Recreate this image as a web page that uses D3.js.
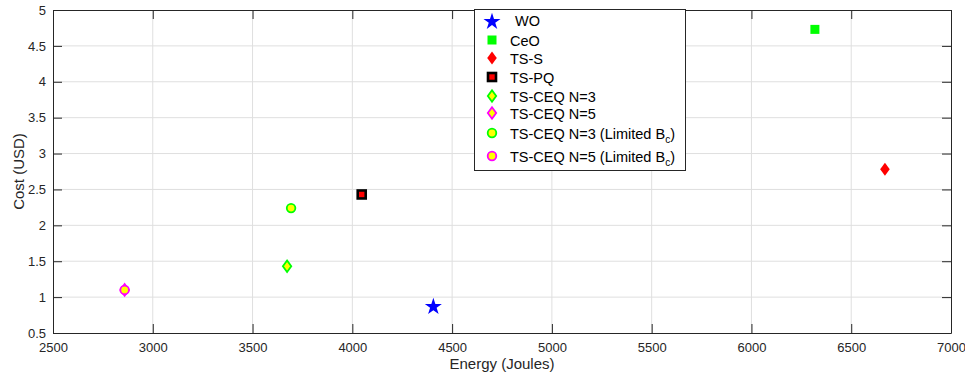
<!DOCTYPE html>
<html><head><meta charset="utf-8">
<script src="https://cdn.jsdelivr.net/npm/d3@7"></script>
<style>body{margin:0;background:#fff}svg{display:block;font-family:"Liberation Sans",Arial,sans-serif}</style>
</head><body><svg id="c" width="965" height="380"></svg>
<script>
const names = ["WO","CeO","TS-S","TS-PQ","TS-CEQ N=3","TS-CEQ N=5","TS-CEQ N=3 (Limited B_c)","TS-CEQ N=5 (Limited B_c)"];
const energy = [4406, 6318, 6669, 4047, 3673, 2859, 3693, 2859];
const cost = [0.88, 4.73, 2.78, 2.43, 1.43, 1.10, 2.24, 1.10];
const xTicks = [2500,3000,3500,4000,4500,5000,5500,6000,6500,7000];
const yTicks = [0.5,1,1.5,2,2.5,3,3.5,4,4.5,5];
const styles = [
  {shape:"star", fill:"#0000ff", stroke:"#0000ff", sw:0},
  {shape:"square", fill:"#00ff00", stroke:"#00ff00", sw:0},
  {shape:"diamond", fill:"#ff0000", stroke:"#ff0000", sw:0},
  {shape:"pq", fill:"#ff0000", stroke:"#000000", sw:3},
  {shape:"diamond", fill:"#ffff00", stroke:"#00ff00", sw:1.8},
  {shape:"diamond", fill:"#ffff00", stroke:"#ff00ff", sw:1.8},
  {shape:"circle", fill:"#ffff00", stroke:"#00ff00", sw:1.8},
  {shape:"circle", fill:"#ffff00", stroke:"#ff00ff", sw:1.8}
];
const svg = d3.select("#c");
const L=53, R=951, T=10, B=333;
const x = d3.scaleLinear().domain([2500,7000]).range([L,R]);
const y = d3.scaleLinear().domain([0.5,5]).range([B,T]);
// grid
svg.append("g").selectAll("line").data(xTicks.slice(1,-1)).join("line")
  .attr("x1",d=>x(d)).attr("x2",d=>x(d)).attr("y1",T).attr("y2",B).attr("stroke","#dfdfdf").attr("stroke-width",1);
svg.append("g").selectAll("line").data(yTicks.slice(1,-1)).join("line")
  .attr("y1",d=>y(d)).attr("y2",d=>y(d)).attr("x1",L).attr("x2",R).attr("stroke","#dfdfdf").attr("stroke-width",1);
const fmt = d=>String(d);
const tl = 9;
const ax = svg.append("g").attr("transform",`translate(0,${B})`).call(d3.axisBottom(x).tickValues(xTicks).tickFormat(fmt).tickSizeInner(-tl).tickSizeOuter(0).tickPadding(10));
const ay = svg.append("g").attr("transform",`translate(${L},0)`).call(d3.axisLeft(y).tickValues(yTicks).tickFormat(fmt).tickSizeInner(-tl).tickSizeOuter(0).tickPadding(7));
const at = svg.append("g").attr("transform",`translate(0,${T})`).call(d3.axisTop(x).tickValues(xTicks).tickFormat("").tickSizeInner(-tl).tickSizeOuter(0));
const ar = svg.append("g").attr("transform",`translate(${R},0)`).call(d3.axisRight(y).tickValues(yTicks).tickFormat("").tickSizeInner(-tl).tickSizeOuter(0));
[ax,ay,at,ar].forEach(g=>{
  g.select(".domain").attr("stroke","#262626");
  g.selectAll(".tick line").attr("stroke","#262626");
  g.selectAll("text").attr("fill","#262626").style("font-size","13px").style("font-family","'Liberation Sans',Arial,sans-serif");
});
svg.append("text").attr("x",(L+R)/2).attr("y",369).attr("text-anchor","middle").attr("fill","#262626").style("font-size","15px").text("Energy (Joules)");
svg.append("text").attr("transform",`translate(24,${(T+B)/2}) rotate(-90)`).attr("text-anchor","middle").attr("fill","#262626").style("font-size","15px").text("Cost (USD)");

function drawMarker(g, s){
  if(s.shape==="star"){
    g.append("path").attr("d",d3.symbol(d3.symbolStar,90)()).attr("fill",s.fill).attr("transform","translate(0,1)");
  } else if(s.shape==="square"){
    g.append("rect").attr("x",-4.5).attr("y",-4.5).attr("width",9).attr("height",9).attr("fill",s.fill);
  } else if(s.shape==="pq"){
    g.append("rect").attr("x",-4).attr("y",-4).attr("width",8).attr("height",8).attr("fill","#ff0000").attr("stroke","#000").attr("stroke-width",2.6);
  } else if(s.shape==="diamond"){
    const w = s.sw? 4.2:4.8, h = s.sw? 5.8:6.5;
    g.append("path").attr("d",`M0,${-h}L${w},0L0,${h}L${-w},0Z`).attr("fill",s.fill).attr("stroke",s.sw?s.stroke:"none").attr("stroke-width",s.sw);
  } else if(s.shape==="circle"){
    g.append("circle").attr("r",4.3).attr("fill",s.fill).attr("stroke",s.stroke).attr("stroke-width",s.sw);
  }
}
// points
names.forEach((n,i)=>{
  const g = svg.append("g").attr("transform",`translate(${x(energy[i])},${y(cost[i])})`);
  drawMarker(g, styles[i]);
});
// legend
const lg = svg.append("g");
lg.append("rect").attr("x",474.5).attr("y",9.5).attr("width",211).attr("height",161).attr("fill","#fff").attr("stroke","#262626").attr("stroke-width",1);
const ly = [20.7,40,58,77,96,113,133,156];
names.forEach((n,i)=>{
  const g = lg.append("g").attr("transform",`translate(492,${ly[i]})`);
  drawMarker(g, styles[i]);
  const t = lg.append("text").attr("x", i===0?515:510).attr("y",ly[i]+5.5).attr("fill","#000").style("font-size","14.5px");
  if(n.includes("B_c")){
    const parts = n.split("B_c");
    t.append("tspan").text(parts[0]+"B");
    t.append("tspan").attr("dy",4).style("font-size","10px").text("c");
    t.append("tspan").attr("dy",-4).text(parts[1]);
  } else t.text(n);
});
</script></body></html>
